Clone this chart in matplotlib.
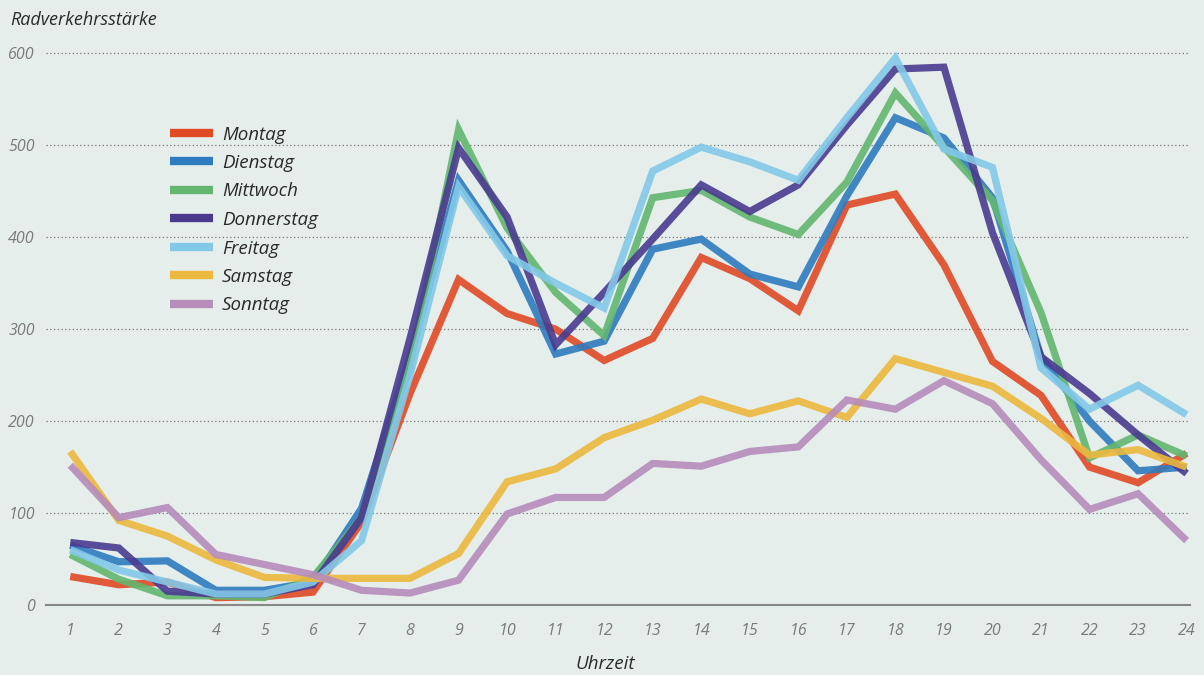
import matplotlib
matplotlib.use('Agg')
import matplotlib.pyplot as plt

# ── Data: hourly cycling counts per weekday ───────────────────────────────
hours = list(range(1, 25))

montag     = [31, 22, 25, 8, 9, 14, 90, 230, 354, 317, 300, 266, 290, 378,
              355, 320, 435, 447, 370, 265, 228, 150, 133, 165]
dienstag   = [65, 47, 48, 16, 16, 25, 105, 270, 462, 385, 273, 287, 387, 398,
              360, 346, 445, 530, 508, 443, 270, 200, 146, 150]
mittwoch   = [55, 28, 10, 10, 8, 30, 95, 260, 517, 410, 340, 293, 443, 451,
              422, 403, 460, 557, 498, 440, 318, 160, 185, 162]
donnerstag = [68, 62, 15, 12, 12, 22, 95, 290, 497, 422, 283, 340, 398, 457,
              428, 457, 522, 583, 585, 405, 270, 230, 185, 143]
freitag    = [60, 38, 25, 12, 12, 25, 70, 250, 455, 380, 350, 323, 472, 498,
              482, 462, 530, 595, 496, 476, 258, 213, 239, 207]
samstag    = [167, 92, 75, 49, 30, 29, 29, 29, 56, 134, 148, 182, 201, 224,
              208, 222, 204, 268, 253, 238, 203, 163, 169, 150]
sonntag    = [152, 95, 106, 55, 44, 33, 16, 13, 27, 99, 117, 117, 154, 151,
              167, 172, 223, 213, 244, 219, 158, 104, 121, 70]

days = ['Montag', 'Dienstag', 'Mittwoch', 'Donnerstag', 'Freitag', 'Samstag', 'Sonntag']
series = [montag, dienstag, mittwoch, donnerstag, freitag, samstag, sonntag]
colors = ['#e04a25', '#2e7bbf', '#62b670', '#4a3a8f', '#82c9e8', '#ecb83d', '#b68cba']

y_ticks = [0, 100, 200, 300, 400, 500, 600]

BG = '#e6eeec'
plt.rcParams['font.family'] = ['Open Sans', 'DejaVu Sans']

fig = plt.figure(figsize=(12.04, 6.75), dpi=100, facecolor=BG)
ax = fig.add_axes([46 / 1204, 70 / 675, (1190 - 46) / 1204, (605 - 35) / 675])
ax.set_facecolor(BG)

for vals, name, c in zip(series, days, colors):
    ax.plot(hours, vals, color=c, lw=5.2, alpha=0.9, label=name,
            solid_joinstyle='miter', solid_capstyle='butt')

ax.set_xlim(0.5, 24.07)
ax.set_ylim(0, 620)

# dotted grid
for yv in y_ticks[1:]:
    ax.axhline(yv, color='#777777', lw=0.9, ls=(0, (1, 2)), zorder=0)

for s in ['top', 'right', 'left']:
    ax.spines[s].set_visible(False)
ax.spines['bottom'].set_color('#888888')
ax.spines['bottom'].set_linewidth(1.5)

ax.set_xticks(hours)
ax.set_yticks(y_ticks)
ax.tick_params(length=0, labelsize=11.5, colors='#7a7a7a', pad=13)
ax.tick_params(axis='y', pad=8)
for lbl in ax.get_xticklabels() + ax.get_yticklabels():
    lbl.set_fontstyle('italic')

fig.text(10 / 1204, 1 - 20 / 675, 'Radverkehrsstärke', ha='left', va='center',
         fontsize=13, style='italic', color='#2a2a2a')
fig.text(605 / 1204, 1 - 664 / 675, 'Uhrzeit', ha='center', va='center',
         fontsize=13.5, style='italic', color='#2a2a2a')

leg = fig.legend(loc='upper left', bbox_to_anchor=(162 / 1204, 1 - 118 / 675),
                 frameon=False, fontsize=13.5, handlelength=2.3, handletextpad=0.5,
                 labelspacing=0.56, borderaxespad=0)
for t in leg.get_texts():
    t.set_fontstyle('italic')
    t.set_color('#2a2a2a')
for h in leg.legend_handles:
    h.set_linewidth(6)
    h.set_alpha(1)

fig.savefig('out.png', dpi=100, facecolor=BG)
